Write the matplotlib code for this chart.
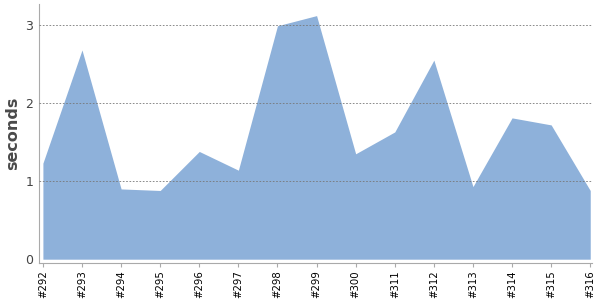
import matplotlib
matplotlib.use("Agg")
import matplotlib.pyplot as plt

builds = ["#292", "#293", "#294", "#295", "#296", "#297", "#298", "#299",
          "#300", "#311", "#312", "#313", "#314", "#315", "#316"]
seconds = [1.23, 2.68, 0.90, 0.88, 1.38, 1.14, 2.99, 3.12,
           1.35, 1.63, 2.55, 0.93, 1.81, 1.72, 0.88]

fig = plt.figure(figsize=(6, 3), dpi=100)
ax = fig.add_axes([0.065, 0.123, 0.922, 0.864])

x = list(range(len(builds)))
ax.fill_between(x, seconds, 0, color="#8eb1da", linewidth=0)

ax.set_xlim(-0.1, len(builds) - 1 + 0.05)
ax.set_ylim(-0.05, 3.27)
ax.set_xticks(x)
ax.set_xticklabels(builds, rotation=90, fontsize=7.3)
ax.set_yticks([0, 1, 2, 3])
ax.tick_params(axis="y", length=0, labelsize=9, labelcolor="#444444", pad=4)
ax.tick_params(axis="x", length=3, color="#aaaaaa", pad=2)

for v in [1, 2, 3]:
    ax.axhline(v, color="#777777", linestyle=(0, (2, 2)), linewidth=0.6, zorder=3)

ax.spines["top"].set_visible(False)
ax.spines["right"].set_visible(False)
ax.spines["left"].set_color("#aaaaaa")
ax.spines["bottom"].set_color("#aaaaaa")

ax.set_ylabel("seconds", fontsize=11.5, fontweight="bold", color="#4a4a4a", labelpad=4)

fig.savefig("out.png")
